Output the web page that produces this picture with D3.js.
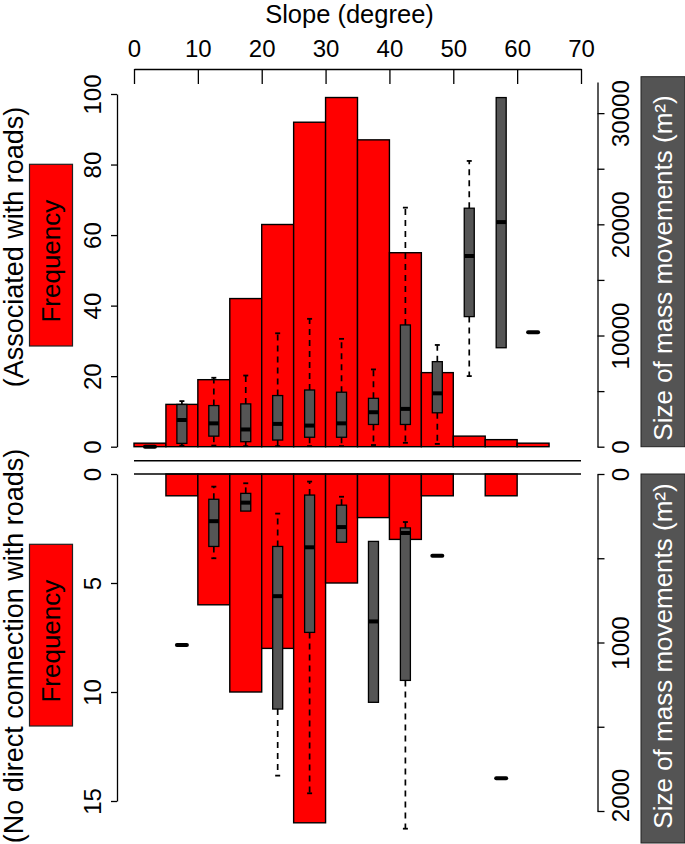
<html>
<head>
  <script src="https://d3js.org/d3.v7.min.js"></script>
  <style>
    body { margin: 0; background: #fff; }
    svg text { font-family: "Liberation Sans", Arial, sans-serif; fill: #000; }
    .axis path, .axis line { stroke: #000; stroke-width: 1.3px; }
    .axis text { font-size: 24px; }
  </style>
</head>
<body>
  <svg id="chart" width="685" height="844"></svg>
  <script>
    // slope bins (degrees), 5 degree wide
    const binStart = [0, 5, 10, 15, 20, 25, 30, 35, 40, 45, 50, 55, 60];
    const xTicks = [0, 10, 20, 30, 40, 50, 60, 70];

    // frequency of mass movements per slope bin
    const freqRoads = [1, 12, 19, 42, 63, 92, 99, 87, 55, 21, 3, 2, 1];
    const freqNoRoads = [0, 1, 6, 10, 8, 16, 5, 2, 3, 1, 0, 1, 0];

    // size of mass movements (m2): [lower whisker, q1, median, q3, upper whisker]
    const sizeRoads = [
      [0, 0, 0, 0, 0],
      [100, 300, 2400, 3800, 4100],
      [100, 950, 2100, 3700, 6200],
      [50, 450, 1550, 3850, 6400],
      [50, 600, 2050, 4600, 10200],
      [50, 850, 1900, 5100, 11500],
      [50, 850, 2100, 4900, 9700],
      [150, 2000, 3100, 4350, 6950],
      [350, 2000, 3400, 10950, 21500],
      [250, 3050, 4800, 7650, 9150],
      [6350, 11700, 17150, 21450, 25700],
      [8900, 8900, 20200, 31400, 31400],
      [10300, 10300, 10300, 10300, 10300]
    ];
    const sizeNoRoads = [
      null,
      [1015, 1015, 1015, 1015, 1015],
      [75, 150, 280, 430, 500],
      [55, 115, 170, 220, 220],
      [235, 430, 725, 1395, 1790],
      [45, 125, 435, 940, 1895],
      [135, 185, 315, 405, 405],
      [400, 400, 875, 1355, 1355],
      [285, 320, 350, 1225, 2105],
      [485, 485, 485, 485, 485],
      null,
      [1805, 1805, 1805, 1805, 1805],
      null
    ];

    const freqTicksTop = [0, 20, 40, 60, 80, 100];
    const freqTicksLow = [0, 5, 10, 15];
    const sizeTicksTop = [0, 5000, 10000, 15000, 20000, 25000, 30000];
    const sizeTicksLow = [0, 500, 1000, 1500, 2000];

    const svg = d3.select("#chart");

    const x = d3.scaleLinear().domain([0, 70]).range([134, 581]);
    const yTop = d3.scaleLinear().domain([0, 100]).range([446.7, 94]);
    const yLow = d3.scaleLinear().domain([0, 15]).range([474, 801]);
    const sTop = d3.scaleLinear().domain([0, 32800]).range([446.7, 82]);
    const sLow = d3.scaleLinear().domain([0, 2000]).range([474, 811]);

    // bars
    const bars = svg.append("g");
    bars.selectAll("rect.top")
      .data(binStart)
      .enter().append("rect")
      .attr("class", "top")
      .attr("x", d => x(d))
      .attr("width", d => x(d + 5) - x(d))
      .attr("y", (d, i) => yTop(freqRoads[i]))
      .attr("height", (d, i) => yTop(0) - yTop(freqRoads[i]))
      .attr("fill", "#ff0000")
      .attr("stroke", "#000")
      .attr("stroke-width", 1.4);

    bars.selectAll("rect.low")
      .data(binStart.filter((d, i) => freqNoRoads[i] > 0))
      .enter().append("rect")
      .attr("class", "low")
      .attr("x", d => x(d))
      .attr("width", d => x(d + 5) - x(d))
      .attr("y", yLow(0))
      .attr("height", d => yLow(freqNoRoads[binStart.indexOf(d)]) - yLow(0))
      .attr("fill", "#ff0000")
      .attr("stroke", "#000")
      .attr("stroke-width", 1.4);

    // separator lines between the two panels
    svg.append("line")
      .attr("x1", x(0)).attr("x2", x(70))
      .attr("y1", 460.7).attr("y2", 460.7)
      .attr("stroke", "#000").attr("stroke-width", 1.5);
    svg.append("line")
      .attr("x1", x(0)).attr("x2", x(70))
      .attr("y1", yLow(0)).attr("y2", yLow(0))
      .attr("stroke", "#000").attr("stroke-width", 1.5);

    // boxplots
    const boxW = 10, capW = 5;
    function drawBoxes(stats, scale) {
      const g = svg.append("g");
      stats.forEach((s, i) => {
        if (!s) return;
        const cx = x(binStart[i] + 2.5);
        const [lo, q1, med, q3, hi] = s;
        if (hi !== q3) {
          g.append("line")
            .attr("x1", cx).attr("x2", cx)
            .attr("y1", scale(q3)).attr("y2", scale(hi))
            .attr("stroke", "#000").attr("stroke-width", 1.7)
            .attr("stroke-dasharray", "6,5");
          g.append("line")
            .attr("x1", cx - capW / 2).attr("x2", cx + capW / 2)
            .attr("y1", scale(hi)).attr("y2", scale(hi))
            .attr("stroke", "#000").attr("stroke-width", 1.8);
        }
        if (lo !== q1) {
          g.append("line")
            .attr("x1", cx).attr("x2", cx)
            .attr("y1", scale(q1)).attr("y2", scale(lo))
            .attr("stroke", "#000").attr("stroke-width", 1.7)
            .attr("stroke-dasharray", "6,5");
          g.append("line")
            .attr("x1", cx - capW / 2).attr("x2", cx + capW / 2)
            .attr("y1", scale(lo)).attr("y2", scale(lo))
            .attr("stroke", "#000").attr("stroke-width", 1.8);
        }
        if (q3 !== q1) {
          g.append("rect")
            .attr("x", cx - boxW / 2).attr("width", boxW)
            .attr("y", Math.min(scale(q1), scale(q3)))
            .attr("height", Math.abs(scale(q1) - scale(q3)))
            .attr("fill", "#555555")
            .attr("stroke", "#000").attr("stroke-width", 1.3);
        }
        g.append("line")
          .attr("x1", cx - boxW / 2).attr("x2", cx + boxW / 2)
          .attr("y1", scale(med)).attr("y2", scale(med))
          .attr("stroke", "#000").attr("stroke-width", 4)
          .attr("stroke-linecap", q3 === q1 ? "round" : "butt");
      });
    }
    drawBoxes(sizeRoads, sTop);
    drawBoxes(sizeNoRoads, sLow);

    // top slope axis, ticks pointing into the plot
    svg.append("g")
      .attr("class", "axis")
      .attr("transform", "translate(0,69)")
      .call(d3.axisTop(x).tickValues(xTicks).tickSizeInner(-15).tickSizeOuter(0).tickPadding(12));

    function rotateLabels(sel, dx) {
      sel.selectAll(".tick text")
        .attr("x", 0).attr("y", 0).attr("dy", "0.36em")
        .attr("text-anchor", "middle")
        .attr("transform", `translate(${dx},0) rotate(-90)`);
    }

    // left frequency axes
    svg.append("g")
      .attr("class", "axis")
      .attr("transform", "translate(117,0)")
      .call(d3.axisLeft(yTop).tickValues(freqTicksTop).tickSize(6).tickSizeOuter(0))
      .call(g => rotateLabels(g, -25));
    svg.append("g")
      .attr("class", "axis")
      .attr("transform", "translate(117,0)")
      .call(d3.axisLeft(yLow).tickValues(freqTicksLow).tickSize(6).tickSizeOuter(0))
      .call(g => rotateLabels(g, -25));

    // right size axes
    svg.append("g")
      .attr("class", "axis")
      .attr("transform", "translate(597.5,0)")
      .call(d3.axisRight(sTop).tickValues(sizeTicksTop).tickSize(7).tickSizeOuter(0)
        .tickFormat(d => d % 10000 === 0 ? d : ""))
      .call(g => rotateLabels(g, 23));
    svg.append("g")
      .attr("class", "axis")
      .attr("transform", "translate(597.5,0)")
      .call(d3.axisRight(sLow).tickValues(sizeTicksLow).tickSize(7).tickSizeOuter(0)
        .tickFormat(d => d % 1000 === 0 ? d : ""))
      .call(g => rotateLabels(g, 23))
      .call(g => g.selectAll(".tick text").filter(d => d === 2000)
        .attr("transform", "translate(23,-16) rotate(-90)"));

    // axis titles
    svg.append("text")
      .attr("x", 349.5).attr("y", 23)
      .attr("text-anchor", "middle")
      .style("font-size", "25.5px")
      .text("Slope (degree)");

    const leftLabels = [
      { text: "(Associated with roads)", cy: 247, boxTop: 164.3, boxBottom: 346 },
      { text: "(No direct connection with roads)", cy: 646, boxTop: 544.3, boxBottom: 726 }
    ];
    leftLabels.forEach(l => {
      svg.append("text")
        .attr("transform", `translate(13,${l.cy}) rotate(-90)`)
        .attr("text-anchor", "middle")
        .attr("dy", "0.36em")
        .style("font-size", "27px")
        .text(l.text);
      svg.append("rect")
        .attr("x", 29.5).attr("width", 43)
        .attr("y", l.boxTop).attr("height", l.boxBottom - l.boxTop)
        .attr("fill", "#ff0000")
        .attr("stroke", "#222").attr("stroke-width", 1.2);
      svg.append("text")
        .attr("transform", `translate(51,${(l.boxTop + l.boxBottom) / 2 + 6}) rotate(-90)`)
        .attr("text-anchor", "middle")
        .attr("dy", "0.36em")
        .style("font-size", "26px")
        .text("Frequency");
    });

    const rightLabels = [
      { top: 76.7, bottom: 446.7, cy: 268 },
      { top: 474, bottom: 843, cy: 656 }
    ];
    rightLabels.forEach(r => {
      svg.append("rect")
        .attr("x", 641).attr("width", 44)
        .attr("y", r.top).attr("height", r.bottom - r.top)
        .attr("fill", "#545454")
        .attr("stroke", "#222").attr("stroke-width", 1);
      svg.append("text")
        .attr("transform", `translate(662.5,${r.cy}) rotate(-90)`)
        .attr("text-anchor", "middle")
        .attr("dy", "0.36em")
        .style("font-size", "26px")
        .style("fill", "#fff")
        .text("Size of mass movements (m²)");
    });
  </script>
</body>
</html>
